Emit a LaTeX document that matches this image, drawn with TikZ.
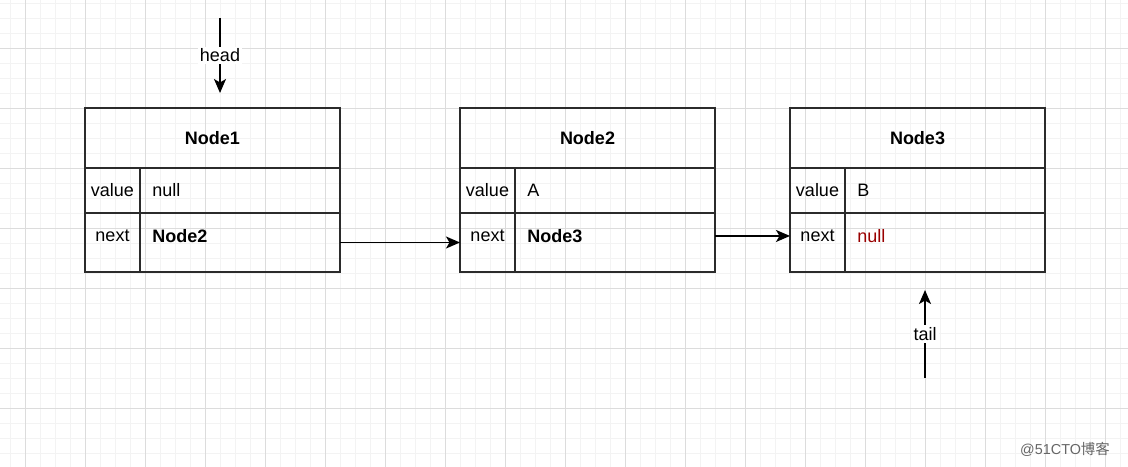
\documentclass[tikz,border=0pt]{standalone}
\usepackage{fontspec}
\setmainfont{Liberation Sans}
\newfontfamily\cjk{Noto Sans CJK SC}
\usetikzlibrary{arrows.meta}
\definecolor{gridminor}{HTML}{F3F3F3}
\definecolor{gridmajor}{HTML}{DCDCDC}
\definecolor{boxline}{HTML}{2B2B2B}
\definecolor{nullred}{HTML}{990000}
\tikzset{
  box/.style={draw=boxline, line width=1.4pt, anchor=north west, inner sep=0pt, outer sep=0pt,
    minimum width=191.25pt, font=\fontsize{13.5}{16}\selectfont\bfseries},
  txt/.style={inner sep=0pt, font=\fontsize{13.5}{16}\selectfont},
  link/.style={line width=1.2pt, -{Stealth[length=10.5pt, width=9pt, inset=2.6pt]}},
  tag/.style={fill=white, inner sep=1.5pt, font=\fontsize{13.5}{16}\selectfont}
}

\begin{document}
\begin{tikzpicture}[x=0.75pt, y=-0.75pt]
\useasboundingbox (0,0) rectangle (1128,467);
\fill[white] (0,0) rectangle (1128,467);
% grid
\foreach \gx in {10,25,...,1128} \draw[gridminor, line width=0.6pt] (\gx,0) -- (\gx,467);
\foreach \gy in {3,18,...,467} \draw[gridminor, line width=0.6pt] (0,\gy) -- (1128,\gy);
\foreach \gx in {25,85,...,1128} \draw[gridmajor, line width=0.6pt] (\gx,0) -- (\gx,467);
\foreach \gy in {48,108,...,467} \draw[gridmajor, line width=0.6pt] (0,\gy) -- (1128,\gy);

% the three list nodes
\foreach \n/\x/\val/\nxt in {1/85/null/\textbf{Node2}, 2/460/A/\textbf{Node3}, 3/790/B/{\color{nullred}null}}{
  \node[box, minimum height=45pt] (top\n) at (\x,108) {Node\n};
  \node[box, minimum height=33.75pt] (valrow\n) at (top\n.south west) {};
  \node[box, minimum height=44.25pt] (nxtrow\n) at (valrow\n.south west) {};
  \draw[boxline, line width=1.4pt] (\x+55,168) -- (\x+55,272);
  \node[txt] (vk\n) at (\x+27.5,190) {value};
  \node[txt, anchor=west] (vv\n) at (\x+67,190) {\val};
  \node[txt] (nk\n) at (\x+27.5,236) {next};
  \node[txt, anchor=west] (nv\n) at (\x+67,236) {\nxt};
}

\draw[link] (nxtrow1.east) -- (nxtrow2.west);
\draw[link] ([yshift=4.9pt]nxtrow2.east) -- ([yshift=4.9pt]nxtrow3.west);

% head and tail pointers
\coordinate (headfrom) at (220,18);
\coordinate (headto) at (220,93);
\draw[link] (headfrom) -- node[tag] (headlabel) {head} (headto);
\coordinate (tailfrom) at (925,378);
\coordinate (tailto) at (925,290);
\draw[link] (tailfrom) -- node[tag] (taillabel) {tail} (tailto);

\node[txt, text=black!60, font=\fontsize{10.8}{13}\selectfont] (mark) at (1065,449) {@51CTO{\cjk 博客}};
\end{tikzpicture}
\end{document}
